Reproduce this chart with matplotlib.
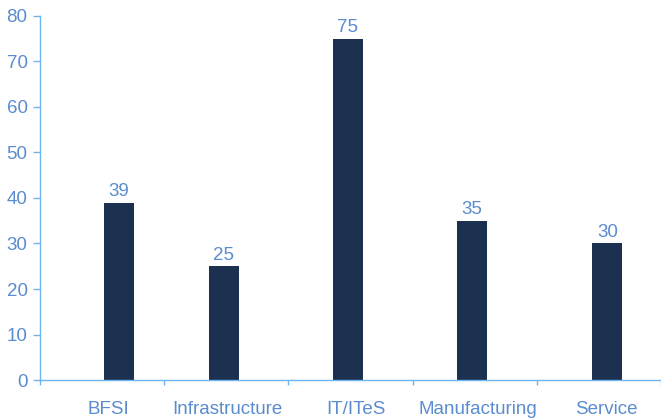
import matplotlib
matplotlib.use("Agg")
import matplotlib.pyplot as plt
import numpy as np

sectors = ["BFSI", "Infrastructure", "IT/ITeS", "Manufacturing", "Service"]
counts = [39, 25, 75, 35, 30]
y_ticks = [0, 10, 20, 30, 40, 50, 60, 70, 80]

# small horizontal nudges (in category units) for bars and their axis labels
bar_shift = [0.137, -0.019, -0.021, -0.024, 0.069]
label_shift = [0.048, 0.01, 0.04, 0.024, 0.06]

text_color = "#5b8ccf"
axis_color = "#6fb4ee"
bar_color = "#1c3150"

plt.rcParams["font.family"] = ["Liberation Sans", "DejaVu Sans"]

fig = plt.figure(figsize=(6.61, 4.19), dpi=100)
ax = fig.add_axes([40 / 661, 39 / 419, 621 / 661, 364 / 419])

x = np.arange(len(sectors))
bar_x = x + np.array(bar_shift)
ax.bar(bar_x, counts, width=0.242, color=bar_color, zorder=2)
for xi, v in zip(bar_x, counts):
    ax.text(xi, v + 0.6, str(v), ha="center", va="bottom",
            fontsize=13.5, color=text_color)

ax.set_xlim(-0.5, len(sectors) - 0.5)
ax.set_ylim(0, 80)
ax.set_yticks(y_ticks)
ax.tick_params(axis="y", colors=axis_color, labelcolor=text_color,
               labelsize=13.5, length=5, width=1, pad=4)

ax.set_xticks(x + np.array(label_shift))
ax.set_xticklabels(sectors)
ax.tick_params(axis="x", which="major", length=0, pad=15,
               labelsize=13.5, labelcolor=text_color)
ax.set_xticks(np.arange(len(sectors) + 1) - 0.5, minor=True)
ax.tick_params(axis="x", which="minor", length=3.5, width=1,
               colors=axis_color, direction="out")

for side in ("top", "right"):
    ax.spines[side].set_visible(False)
for side in ("left", "bottom"):
    ax.spines[side].set_color(axis_color)
    ax.spines[side].set_linewidth(1)

fig.savefig("out.png", dpi=100)
